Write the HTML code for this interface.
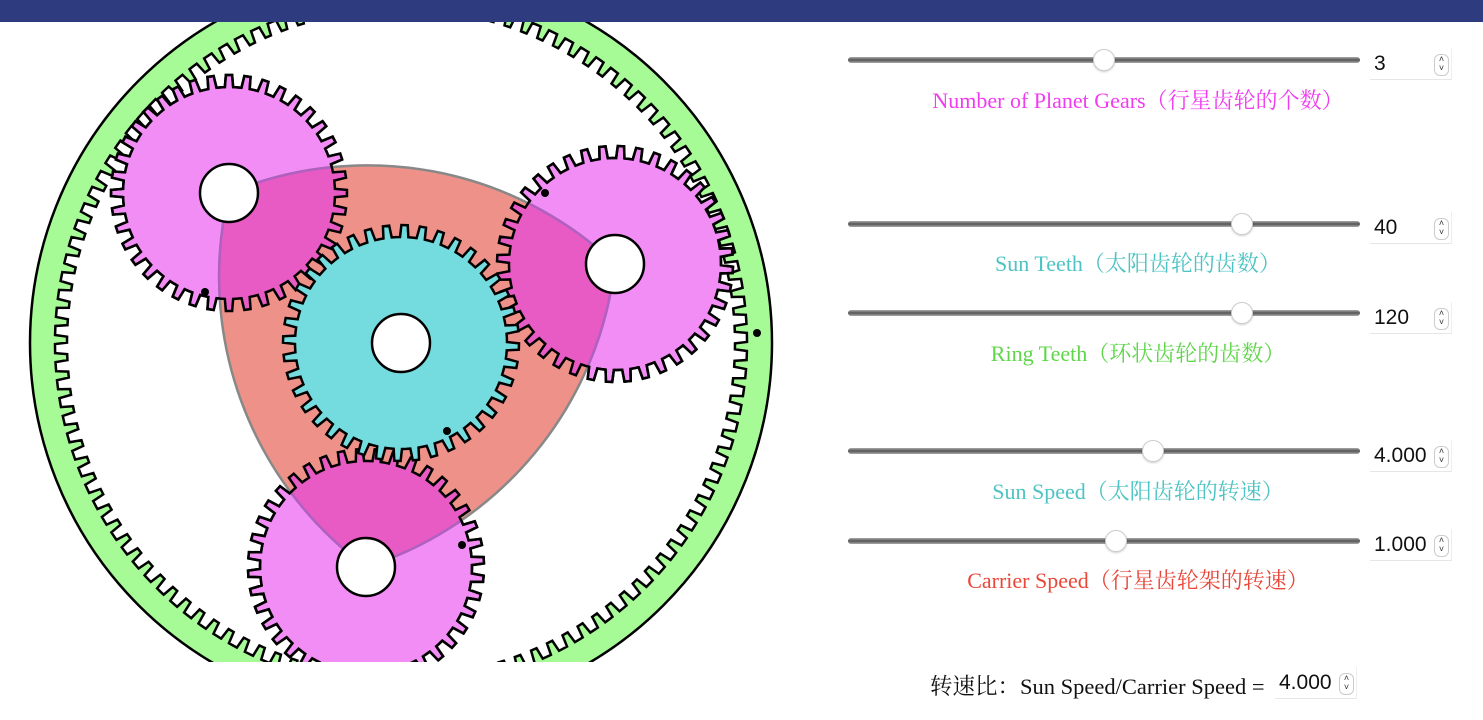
<!DOCTYPE html>
<html><head><meta charset="utf-8">
<style>
html,body{margin:0;padding:0;width:1483px;height:720px;overflow:hidden;background:#fff;}
#bar{position:absolute;left:0;top:0;width:1483px;height:22px;background:#2e3b7e;}
svg#g{position:absolute;left:0;top:22px;}
.track{position:absolute;left:848px;width:512px;height:6px;border-radius:3px;background:linear-gradient(#aaa,#555 50%,#aaa);}
.thumb{position:absolute;width:22px;height:22px;border-radius:50%;background:#fff;border:1px solid #ccc;box-sizing:border-box;box-shadow:0 1px 2px rgba(0,0,0,.2);}
.num{position:absolute;left:1370px;width:82px;height:32px;box-sizing:border-box;border-bottom:1px solid #e6e6e6;border-right:1px solid #eee;font:21px "Liberation Sans",sans-serif;color:#111;line-height:32px;padding-left:4px;overflow:hidden;white-space:nowrap;}
.spin{position:absolute;right:2px;top:6px;width:13px;height:20px;border:1px solid #ccc;border-radius:6px;font-size:9px;line-height:9px;text-align:center;color:#333;background:#fff;}
.lbl{position:absolute;left:838px;width:600px;text-align:center;font:22px "Liberation Serif","Noto Serif CJK SC",serif;white-space:nowrap;}
</style></head><body>
<div id="bar"></div>
<svg id="g" width="820" height="640" viewBox="0 22 820 640" xmlns="http://www.w3.org/2000/svg"></svg>

<div class="track" style="top:57px"></div><div class="thumb" style="left:1093px;top:49px"></div>
<div class="num" style="top:48px">3<div class="spin">˄<br>˅</div></div>
<div class="lbl" style="top:84px;color:#f03cf0">Number of Planet Gears（行星齿轮的个数）</div>

<div class="track" style="top:221px"></div><div class="thumb" style="left:1231px;top:213px"></div>
<div class="num" style="top:212px">40<div class="spin">˄<br>˅</div></div>
<div class="lbl" style="top:247px;color:#4ec3c3">Sun Teeth（太阳齿轮的齿数）</div>

<div class="track" style="top:310px"></div><div class="thumb" style="left:1231px;top:302px"></div>
<div class="num" style="top:302px">120<div class="spin">˄<br>˅</div></div>
<div class="lbl" style="top:337px;color:#5fd64a">Ring Teeth（环状齿轮的齿数）</div>

<div class="track" style="top:448px"></div><div class="thumb" style="left:1142px;top:440px"></div>
<div class="num" style="top:440px">4.000<div class="spin">˄<br>˅</div></div>
<div class="lbl" style="top:475px;color:#4ec3c3">Sun Speed（太阳齿轮的转速）</div>

<div class="track" style="top:538px"></div><div class="thumb" style="left:1105px;top:530px"></div>
<div class="num" style="top:529px">1.000<div class="spin">˄<br>˅</div></div>
<div class="lbl" style="top:564px;color:#e8483a">Carrier Speed（行星齿轮架的转速）</div>

<div style="position:absolute;left:930px;top:669px;font:22.5px 'Liberation Serif','Noto Serif CJK SC',serif;color:#111;white-space:nowrap">转速比：Sun Speed/Carrier Speed =</div>
<div class="num" style="top:667px;left:1275px;width:82px">4.000<div class="spin">˄<br>˅</div></div>

<script>
var NS="http://www.w3.org/2000/svg",svg=document.getElementById('g');
function el(t,a){var e=document.createElementNS(NS,t);for(var k in a)e.setAttribute(k,a[k]);svg.appendChild(e);return e;}
function gear(cx,cy,r,n,d,ph){var p=2*Math.PI/n,s="";
 var pts=[[-0.5,r-d],[-0.25,r-d],[-0.17,r+d],[0.17,r+d],[0.25,r-d]];
 for(var i=0;i<n;i++){var a=ph+i*p;pts.forEach(function(q,j){var an=a+q[0]*p,rr=q[1];
  s+=(i==0&&j==0?"M":"L")+(cx+rr*Math.cos(an)).toFixed(2)+" "+(cy+rr*Math.sin(an)).toFixed(2);});}
 return s+"Z";}
function circ(cx,cy,r){return "M"+(cx-r)+" "+cy+"a"+r+" "+r+" 0 1 0 "+(2*r)+" 0a"+r+" "+r+" 0 1 0 "+(-2*r)+" 0Z";}
var cx=401,cy=343,rp=112,d=6;
el('path',{d:circ(cx,cy,371)+gear(cx,cy,340,120,-6,0.01),fill:'#a6fb96','fill-rule':'evenodd',stroke:'#000','stroke-width':2.5});
var P=[[229,193],[615,264],[366,567]];
var gp=P.map(function(q,i){return gear(q[0],q[1],rp,40,d,i*0.05);});
gp.forEach(function(g){el('path',{d:g,fill:'#f38df6',stroke:'#000','stroke-width':2.5});});
var L=360;
var cd="M"+P[0][0]+" "+P[0][1]+"A"+L+" "+L+" 0 0 1 "+P[1][0]+" "+P[1][1]+"A"+L+" "+L+" 0 0 1 "+P[2][0]+" "+P[2][1]+"A"+L+" "+L+" 0 0 1 "+P[0][0]+" "+P[0][1]+"Z";
var defs=el('defs',{});
gp.forEach(function(g,i){var c=document.createElementNS(NS,'clipPath');c.setAttribute('id','c'+i);var pp=document.createElementNS(NS,'path');pp.setAttribute('d',g);c.appendChild(pp);defs.appendChild(c);});
el('path',{d:cd,fill:'#ee9289',stroke:'#888','stroke-width':2.5});
gp.forEach(function(g,i){el('path',{d:cd,fill:'#e85ac4',stroke:'#b060c0','stroke-width':2.5,'clip-path':'url(#c'+i+')'});});
gp.forEach(function(g){el('path',{d:g,fill:'none',stroke:'#000','stroke-width':2.5});});
el('path',{d:gear(cx,cy,rp,40,d,0.03),fill:'#74dcdf',stroke:'#000','stroke-width':2.5});
P.forEach(function(q){el('circle',{cx:q[0],cy:q[1],r:29,fill:'#fff',stroke:'#000','stroke-width':2.5});});
el('circle',{cx:cx,cy:cy,r:29,fill:'#fff',stroke:'#000','stroke-width':2.5});
[[205,292],[545,193],[462,545],[447,431],[757,333]].forEach(function(q){el('circle',{cx:q[0],cy:q[1],r:4,fill:'#000'});});
</script>
</body></html>
